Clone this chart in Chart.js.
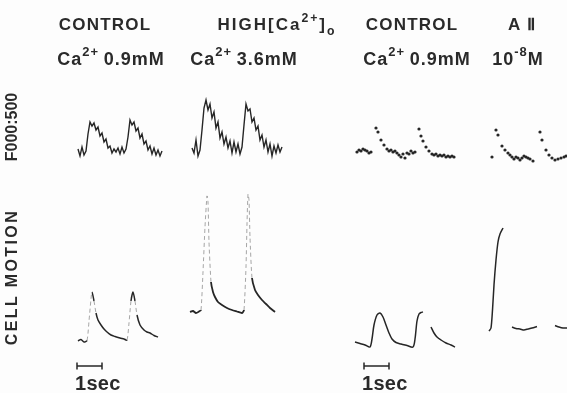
<!DOCTYPE html>
<html>
<head>
<meta charset="utf-8">
<script src="https://cdn.jsdelivr.net/npm/chart.js@4.4.0/dist/chart.umd.min.js"></script>
<style>
  html, body { margin: 0; padding: 0; background: #fff; }
  #fig { position: relative; width: 567px; height: 393px; background: #fdfdfd; overflow: hidden;
         font-family: "Liberation Sans", Arial, sans-serif; color: #2a2a2a; }
  #fig canvas { position: absolute; left: 0; top: 0; }
  .lbl { position: absolute; white-space: nowrap; transform: translateX(-50%); line-height: 1; font-weight: bold; }
  .h1 { top: 16px; font-size: 17px; letter-spacing: 1.2px; }
  .h2 { top: 50px; font-size: 18px; letter-spacing: 1px; }
  .vl { position: absolute; white-space: nowrap; line-height: 1; font-weight: bold; font-size: 16px;
        transform: translate(-50%, -50%) rotate(-90deg); }
  .sec { position: absolute; top: 373px; line-height: 1; font-size: 20px; font-weight: bold; letter-spacing: 0.3px; }
  sup, sub { line-height: 0; font-size: 0.72em; }
  sup { vertical-align: 0.66em; }
  sub { vertical-align: -0.4em; }
</style>
</head>
<body>
<div id="fig">
  <canvas id="traces" width="567" height="393"></canvas>

  <div class="lbl h1" style="left:105px">CONTROL</div>
  <div class="lbl h1" style="left:277px; letter-spacing:2px">HIGH[Ca<sup>2+</sup>]<sub>o</sub></div>
  <div class="lbl h1" style="left:412px">CONTROL</div>
  <div class="lbl h1" style="left:522px">A &#8545;</div>

  <div class="lbl h2" style="left:111px">Ca<sup>2+</sup>&#8201;0.9mM</div>
  <div class="lbl h2" style="left:244px">Ca<sup>2+</sup>&#8201;3.6mM</div>
  <div class="lbl h2" style="left:417px">Ca<sup>2+</sup>&#8201;0.9mM</div>
  <div class="lbl h2" style="left:518px">10<sup>-8</sup>M</div>

  <div class="vl" style="left:12px; top:127px; letter-spacing:0px">F000:500</div>
  <div class="vl" style="left:12px; top:277px; letter-spacing:2.4px">CELL MOTION</div>

  <div class="sec" style="left:75px">1sec</div>
  <div class="sec" style="left:362px">1sec</div>
</div>

<script>
    "use strict";

    var SAMPLE_DT = 0.08;

    // fluorescence, control 0.9 mM (evenly sampled)
    var FLUO_CONTROL = [0.3, -0.4, 0.5, -0.3, 0.1, 1.8, 3.0, 2.6, 2.9, 2.2, 2.5, 1.6, 1.9, 1.0, 1.3, 0.4,
        0.6, -0.1, 0.3, 0.0, 0.4, -0.2, 0.5, -0.1, 0.3, 1.5, 3.2, 2.7, 3.0, 2.1, 2.4, 1.4, 1.8, 0.8,
        1.1, 0.2, 0.6, -0.2, 0.4, -0.3, 0.2, -0.4, 0.1];
    // fluorescence, high Ca 3.6 mM (evenly sampled)
    var FLUO_HIGH_CA = [0.2, -0.3, 1.0, -0.6, 0.0, 2.0, 4.2, 5.0, 4.0, 4.6, 3.2, 3.8, 2.2, 2.8, 1.2, 1.8,
        0.6, 1.3, 0.2, 0.9, -0.3, 0.8, -0.2, 0.6, -0.4, 0.3, 2.5, 4.6, 3.9, 4.1, 2.8, 3.2, 2.0, 2.4,
        1.0, 1.5, 0.3, 1.0, -0.2, 0.6, -0.6, 0.4, -0.3, 0.5, -0.2, 0.3];
    // fluorescence, second control (dotted record)
    var FLUO_CONTROL2_T = [0.08, 0.16, 0.24, 0.32, 0.40, 0.48, 0.56, 0.64, 0.84, 0.92, 1.04, 1.16, 1.28,
        1.36, 1.44, 1.52, 1.60, 1.68, 1.76, 1.84, 1.92, 2.00, 2.08, 2.16, 2.24, 2.32, 2.40, 2.56, 2.64,
        2.72, 2.84, 2.96, 3.08, 3.16, 3.24, 3.32, 3.40, 3.48, 3.56, 3.64, 3.72, 3.80, 3.88, 3.96];
    var FLUO_CONTROL2 = [0.0, 0.2, 0.1, 0.3, 0.2, 0.1, -0.1, 0.0, 2.4, 2.0, 1.2, 0.7, 0.3,
        0.1, 0.2, 0.0, 0.1, -0.1, -0.3, -0.5, -0.2, -0.6, -0.1, -0.2, 0.1, -0.1, 0.0, 2.3, 1.6,
        1.1, 0.5, 0.1, -0.2, -0.3, -0.2, -0.4, -0.3, -0.4, -0.3, -0.5, -0.4, -0.5, -0.4, -0.5];
    // fluorescence, angiotensin II 1e-8 M (dotted record)
    var FLUO_AII_T = [0.08, 0.24, 0.32, 0.48, 0.60, 0.72, 0.80, 0.88, 0.96, 1.04, 1.12, 1.20, 1.28, 1.36,
        1.44, 1.52, 1.60, 1.72, 2.00, 2.08, 2.24, 2.36, 2.48, 2.60, 2.72, 2.84, 2.96, 3.04];
    var FLUO_AII = [0.0, 2.7, 2.2, 1.1, 0.7, 0.4, 0.2, 0.0, -0.2, 0.0, -0.1, -0.3, -0.1, 0.1,
        0.0, -0.1, -0.2, -0.4, 2.5, 1.7, 0.7, 0.2, -0.1, -0.3, -0.2, -0.1, 0.0, 0.1];

    // cell motion
    var MOTION_CONTROL_T = [0, 0.12, 0.24, 0.36, 0.44, 0.52, 0.56, 0.64, 0.72, 0.80, 0.92, 1.04, 1.16, 1.32,
        1.48, 1.68, 1.84, 1.96, 2.04, 2.12, 2.20, 2.28, 2.36, 2.48, 2.64, 2.76, 2.88, 3.04, 3.20];
    var MOTION_CONTROL = [0, 0.15, -0.1, 0.05, 2.0, 4.2, 4.9, 4.0, 2.8, 2.1, 1.6, 1.2, 0.9, 0.6,
        0.45, 0.3, 0.2, 0.1, 1.8, 4.0, 4.9, 4.0, 2.6, 1.6, 1.1, 0.9, 0.8, 0.55, 0.4];
    var MOTION_HIGH_CA_T = [0, 0.12, 0.24, 0.36, 0.44, 0.52, 0.60, 0.68, 0.72, 0.76, 0.84, 0.92, 1.00, 1.12,
        1.28, 1.48, 1.68, 1.88, 2.08, 2.16, 2.24, 2.28, 2.32, 2.36, 2.40, 2.48, 2.60, 2.72, 2.88, 3.04,
        3.20, 3.40];
    var MOTION_HIGH_CA = [0, 0.1, -0.1, 0.05, 0.2, 4.0, 8.5, 11.6, 11.0, 7.0, 3.0, 2.0, 1.5, 1.0,
        0.7, 0.4, 0.2, 0.05, -0.1, 0.2, 4.5, 8.8, 11.8, 11.2, 7.5, 3.4, 2.2, 1.7, 1.2, 0.8,
        0.4, 0.0];
    var MOTION_CONTROL2_T = [0, 0.2, 0.4, 0.6, 0.68, 0.76, 0.88, 1.0, 1.12, 1.24, 1.36, 1.48, 1.64, 1.84,
        2.08, 2.32, 2.40, 2.48, 2.56, 2.64, 2.72, 2.90, 3.04, 3.16, 3.28, 3.44, 3.64, 3.84, 4.0];
    var MOTION_CONTROL2 = [0.5, 0.35, 0.2, 0.0, 0.8, 2.2, 3.2, 3.4, 3.0, 2.2, 1.4, 0.8, 0.45, 0.3,
        0.15, 0.0, 0.8, 2.6, 3.3, 3.45, 3.5, null, 2.0, 1.4, 1.0, 0.7, 0.4, 0.2, 0.0];
    var MOTION_AII_T = [0, 0.08, 0.14, 0.2, 0.28, 0.36, 0.44, 0.56, 0.8, 0.92, 1.08, 1.24, 1.40, 1.56,
        1.72, 1.92, 2.3, 2.64, 2.80, 2.96, 3.12];
    var MOTION_AII = [-0.1, 0.2, 2.0, 4.5, 7.0, 8.8, 9.6, 10.2, null, 0.3, 0.15, 0.1, 0.0, 0.1,
        0.2, 0.35, null, 0.45, 0.3, 0.2, 0.2];

    var SCALE_BAR_SEC = 1;

    // ---- layout: where each record sits on the page (s from left edge, units from bottom) ----
    var AXIS_SEC = 22.68, AXIS_UNITS = 39.3;
    var PANELS = {
        fluoControl:   { t0: 3.12,  base: 24.1 },
        fluoHighCa:    { t0: 7.68,  base: 24.3 },
        fluoControl2:  { t0: 14.2,  base: 24.1 },
        fluoAII:       { t0: 19.6,  base: 23.6 },
        motionControl: { t0: 3.12,  base: 5.2 },
        motionHighCa:  { t0: 7.6,   base: 8.1 },
        motionControl2:{ t0: 14.2,  base: 4.6 },
        motionAII:     { t0: 19.56, base: 6.3 }
    };
    var BARS = [{ t0: 3.08, y: 2.7 }, { t0: 14.56, y: 2.7 }];

    var INK = '#262626';

    function sampled(values, p) {
        return values.map(function (v, i) { return { x: p.t0 + i * SAMPLE_DT, y: p.base + v }; });
    }
    function series(times, values, p) {
        return times.map(function (t, i) {
            return { x: p.t0 + t, y: values[i] === null ? null : p.base + values[i] };
        });
    }

    // fast pen strokes were recorded faint and broken
    function fastPen(ctx) {
        var dx = Math.abs(ctx.p1.parsed.x - ctx.p0.parsed.x) || 0.001;
        return Math.abs(ctx.p1.parsed.y - ctx.p0.parsed.y) / dx > 14;
    }
    var faintSegments = {
        borderColor: function (ctx) { return fastPen(ctx) ? 'rgba(80,80,80,0.5)' : undefined; },
        borderDash: function (ctx) { return fastPen(ctx) ? [4, 3] : undefined; },
        borderWidth: function (ctx) { return fastPen(ctx) ? 1 : undefined; }
    };

    function line(data, width, tension, segment) {
        var ds = { data: data, showLine: true, borderColor: INK, borderWidth: width, tension: tension,
                   pointRadius: 0, pointHoverRadius: 0, spanGaps: false };
        if (segment) ds.segment = segment;
        return ds;
    }
    function dots(data) {
        return { data: data, showLine: false, pointRadius: 1.6, pointHoverRadius: 0, pointBorderWidth: 0,
                 pointBackgroundColor: INK, backgroundColor: INK };
    }
    function bar(b) {
        return { data: [{ x: b.t0, y: b.y }, { x: b.t0 + SCALE_BAR_SEC, y: b.y }], showLine: true,
                 borderColor: INK, borderWidth: 1.5, pointStyle: 'line', rotation: 90,
                 pointRadius: 3.5, pointHoverRadius: 0, pointBorderWidth: 1.5, pointBorderColor: INK };
    }

    var datasets = [
        line(sampled(FLUO_CONTROL, PANELS.fluoControl), 1.4, 0),
        line(sampled(FLUO_HIGH_CA, PANELS.fluoHighCa), 1.4, 0),
        dots(series(FLUO_CONTROL2_T, FLUO_CONTROL2, PANELS.fluoControl2)),
        dots(series(FLUO_AII_T, FLUO_AII, PANELS.fluoAII)),
        line(series(MOTION_CONTROL_T, MOTION_CONTROL, PANELS.motionControl), 1.5, 0.25, faintSegments),
        line(series(MOTION_HIGH_CA_T, MOTION_HIGH_CA, PANELS.motionHighCa), 1.8, 0.2, faintSegments),
        line(series(MOTION_CONTROL2_T, MOTION_CONTROL2, PANELS.motionControl2), 1.5, 0.3),
        line(series(MOTION_AII_T, MOTION_AII, PANELS.motionAII), 1.5, 0.25),
        bar(BARS[0]),
        bar(BARS[1])
    ];

    new Chart(document.getElementById('traces').getContext('2d'), {
        type: 'scatter',
        data: { datasets: datasets },
        options: {
            responsive: false,
            animation: false,
            devicePixelRatio: 1,
            layout: { padding: 0, autoPadding: false },
            plugins: { legend: { display: false }, tooltip: { enabled: false } },
            scales: {
                x: { type: 'linear', display: false, min: 0, max: AXIS_SEC },
                y: { type: 'linear', display: false, min: 0, max: AXIS_UNITS }
            }
        }
    });
</script>
</body>
</html>
